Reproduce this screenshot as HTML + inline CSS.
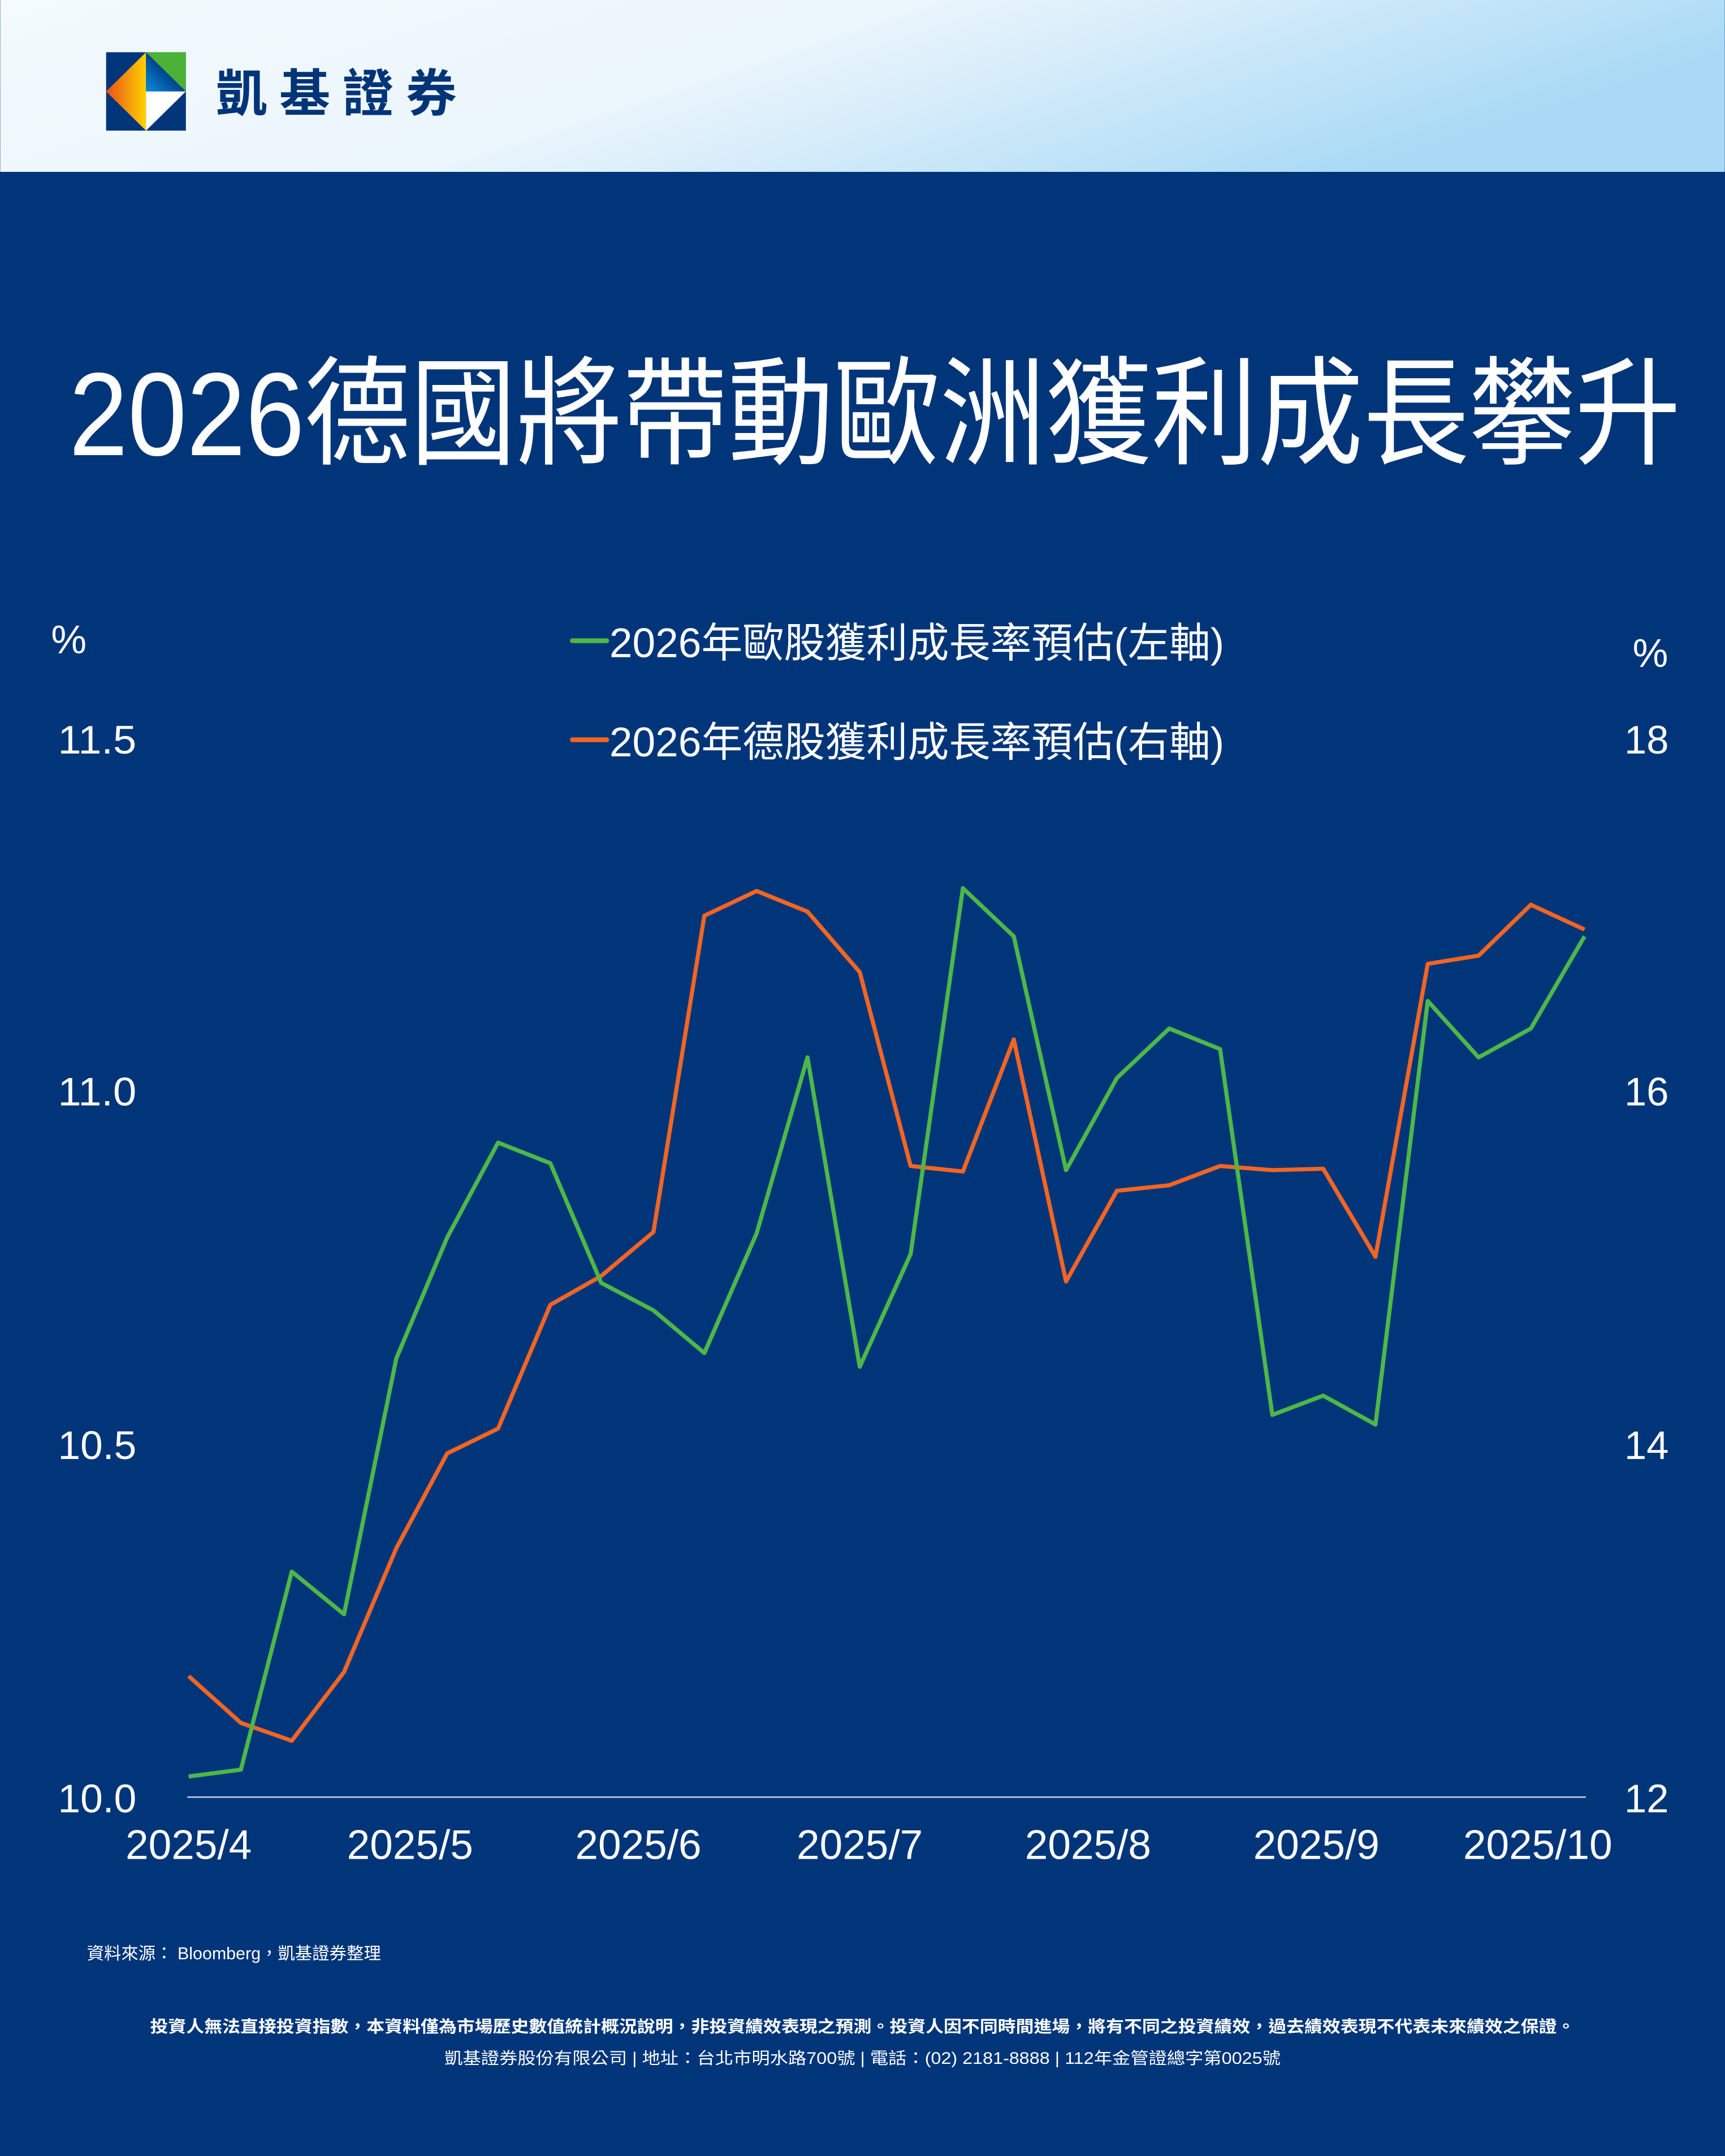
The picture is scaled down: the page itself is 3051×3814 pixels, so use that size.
<!DOCTYPE html>
<html><head><meta charset="utf-8"><style>html,body{margin:0;padding:0;background:#00357a}svg{display:block}</style></head>
<body>
<svg width="3051" height="3814" viewBox="0 0 1254 1568" xmlns="http://www.w3.org/2000/svg" font-family="'Liberation Sans','Noto Sans CJK TC',sans-serif">
<defs>
<linearGradient id="hd" x1="0" y1="0" x2="1" y2="0.3"><stop offset="0" stop-color="#f4fafd"/><stop offset="0.5" stop-color="#eaf5fc"/><stop offset="1" stop-color="#a9d9f5"/></linearGradient>
<linearGradient id="og" x1="0" y1="0" x2="1" y2="0"><stop offset="0" stop-color="#e8501c"/><stop offset="1" stop-color="#ffd200"/></linearGradient>
<linearGradient id="bg2" x1="0" y1="1" x2="1" y2="0"><stop offset="0" stop-color="#0a8fe0"/><stop offset="0.6" stop-color="#00357a"/></linearGradient>
</defs>
<rect width="1254" height="1568" fill="#00357a"/>
<rect width="1254" height="125" fill="url(#hd)"/>
<rect x="77" y="38" width="58" height="57" fill="#00357a"/>
<polygon points="77,66.5 106,38 106,95" fill="url(#og)"/>
<polygon points="106,38 135,38 135,66.5" fill="#4bb137"/>
<polygon points="106,38 135,66.5 106,66.5" fill="url(#bg2)"/>
<polygon points="106,66.5 135,66.5 106,95" fill="#ffffff"/>
<text x="157" y="81" font-size="37" fill="#003478" letter-spacing="9" font-weight="bold">凱基證券</text>
<text x="50" y="331" font-size="86" fill="#fff" textLength="1172" lengthAdjust="spacingAndGlyphs">2026德國將帶動歐洲獲利成長攀升</text>
<line x1="416" y1="466" x2="441" y2="466" stroke="#4db848" stroke-width="3.5" stroke-linecap="round"/>
<text x="443" y="478" font-size="30" fill="#fff" textLength="447" lengthAdjust="spacingAndGlyphs">2026年歐股獲利成長率預估(左軸)</text>
<line x1="416" y1="538" x2="441" y2="538" stroke="#f26522" stroke-width="3.5" stroke-linecap="round"/>
<text x="443" y="550" font-size="30" fill="#fff" textLength="447" lengthAdjust="spacingAndGlyphs">2026年德股獲利成長率預估(右軸)</text>
<g fill="#fff" font-size="29">
<text x="37" y="475">%</text>
<text x="1187" y="485">%</text>
<text x="42" y="548" textLength="57" lengthAdjust="spacingAndGlyphs">11.5</text><text x="42" y="804" textLength="57" lengthAdjust="spacingAndGlyphs">11.0</text><text x="42" y="1061" textLength="57" lengthAdjust="spacingAndGlyphs">10.5</text><text x="42" y="1318" textLength="57" lengthAdjust="spacingAndGlyphs">10.0</text>
<text x="1181" y="548">18</text><text x="1181" y="804">16</text><text x="1181" y="1061">14</text><text x="1181" y="1318">12</text>
</g>
<line x1="136" y1="1307" x2="1153" y2="1307" stroke="#c8d2e0" stroke-width="1"/>
<g fill="#fff" font-size="30" text-anchor="middle">
<text x="137" y="1352">2025/4</text><text x="298" y="1352">2025/5</text><text x="464" y="1352">2025/6</text><text x="625" y="1352">2025/7</text><text x="791" y="1352">2025/8</text><text x="957" y="1352">2025/9</text><text x="1118" y="1352">2025/10</text>
</g>
<polyline fill="none" stroke="#f26522" stroke-width="3" stroke-linejoin="round" points="137,1219 175,1253 212,1266 250,1216 288,1126 325,1057 362,1039 400,949 437,928 475,896 512,666 550,648 587,663 625,707 662,848 700,852 737,756 775,932 812,866 850,862 887,848 925,851 962,850 1000,914 1038,701 1075,695 1113,658 1152,676"/>
<polyline fill="none" stroke="#4db848" stroke-width="3" stroke-linejoin="round" points="137,1292 175,1287 212,1143 250,1174 288,988 325,900 362,831 400,846 437,933 475,953 512,984 550,897 587,769 625,994 662,912 700,646 737,681 775,851 812,784 850,748 887,763 925,1029 962,1015 1000,1036 1038,728 1075,769 1113,748 1152,681"/>
<text x="63" y="1425" font-size="12.5" fill="#fff">資料來源： Bloomberg，凱基證券整理</text>
<text x="627" y="1478" font-size="12" fill="#fff" font-weight="bold" text-anchor="middle" textLength="1036" lengthAdjust="spacingAndGlyphs">投資人無法直接投資指數，本資料僅為市場歷史數值統計概況說明，非投資績效表現之預測。投資人因不同時間進場，將有不同之投資績效，過去績效表現不代表未來績效之保證。</text>
<text x="627" y="1501" font-size="12" fill="#fff" text-anchor="middle" textLength="608" lengthAdjust="spacingAndGlyphs">凱基證券股份有限公司 | 地址：台北市明水路700號 | 電話：(02) 2181-8888 | 112年金管證總字第0025號</text>
</svg>
</body></html>
